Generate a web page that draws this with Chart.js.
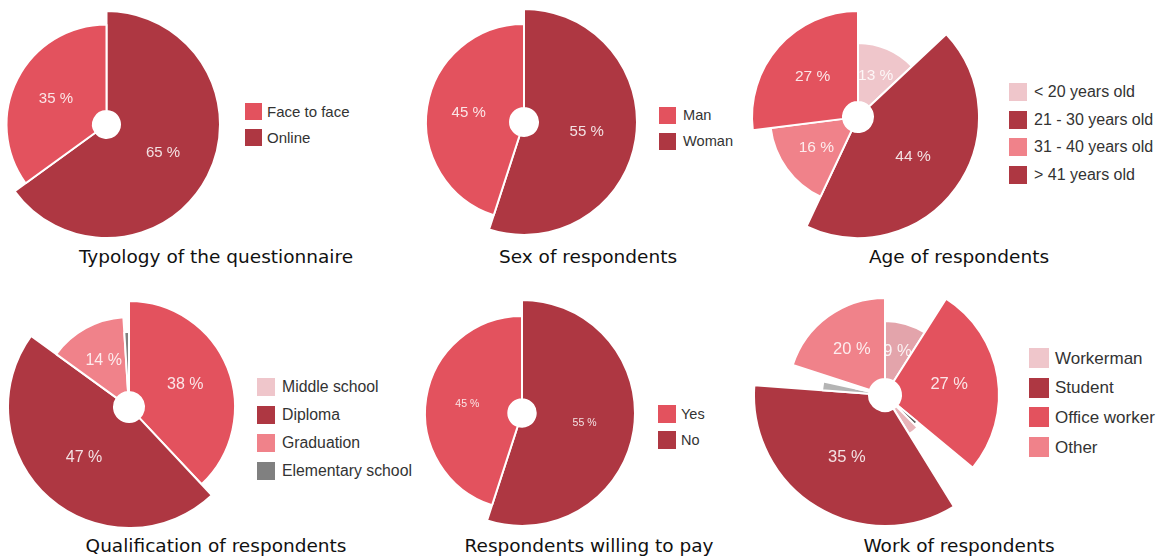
<!DOCTYPE html>
<html>
<head>
<meta charset="utf-8">
<script src="https://cdn.jsdelivr.net/npm/chart.js@4.4.1/dist/chart.umd.min.js"></script>
<style>
html,body{margin:0;padding:0;background:#ffffff;width:1164px;height:560px;overflow:hidden;position:relative}
canvas{position:absolute}
.legend{position:absolute;font-family:"Liberation Sans",Arial,Helvetica,sans-serif;color:#333333}
.item{position:absolute;left:0;display:flex;align-items:center;white-space:nowrap;line-height:1}
.sw{display:inline-block;flex:none}
.title{position:absolute;font-family:"DejaVu Sans",Verdana,sans-serif;font-size:18.5px;line-height:1;white-space:nowrap;color:#111111;transform:translateX(-50%)}
</style>
</head>
<body>
<script>
// ---------------- DATA ----------------
const typologyTitle  = 'Typology of the questionnaire';
const typologySlices = ['Online', 'Face to face'];
const typologyValues = [65, 35];
const typologyLegend = ['Face to face', 'Online'];

const sexTitle  = 'Sex of respondents';
const sexSlices = ['Woman', 'Man'];
const sexValues = [55, 45];
const sexLegend = ['Man', 'Woman'];

const ageTitle  = 'Age of respondents';
const ageSlices = ['< 20 years old', '21 - 30 years old', '31 - 40 years old', '> 41 years old'];
const ageValues = [13, 44, 16, 27];
const ageLegend = ['< 20 years old', '21 - 30 years old', '31 - 40 years old', '> 41 years old'];

const qualTitle  = 'Qualification of respondents';
const qualSlices = ['Middle school', 'Diploma', 'Graduation', 'Elementary school'];
const qualValues = [38, 47, 14, 1];
const qualLegend = ['Middle school', 'Diploma', 'Graduation', 'Elementary school'];

const payTitle  = 'Respondents willing to pay';
const paySlices = ['No', 'Yes'];
const payValues = [55, 45];
const payLegend = ['Yes', 'No'];

const workTitle  = 'Work of respondents';
const workSlices = ['Workerman', 'Office worker', '', '', 'Student', '', '', 'Other'];
const workValues = [9, 27, 1.5, 3.7, 35, 2.2, 1.6, 20];
const workLegend = ['Workerman', 'Student', 'Office worker', 'Other'];

// ---------------- STYLE ----------------
const DARK = '#AE3742', RED = '#E3525E', PINK = '#F0828A', LIGHT = '#EFC6CB', GRAY = '#808080';

const panels = [
  { title: typologyTitle, slices: typologySlices, values: typologyValues, legend: typologyLegend,
    cx: 106, cy: 124, hole: 14.5, radii: [113.5, 100],
    sliceColors: [DARK, RED], legendColors: [RED, DARK],
    lx: 245, ly: 103, pitch: 25.5, sw: 17, gap: 5, lfont: 15, labelFont: 15,
    tx: 216, tb: 264 },
  { title: sexTitle, slices: sexSlices, values: sexValues, legend: sexLegend,
    cx: 524, cy: 122, hole: 15, radii: [113, 98],
    sliceColors: [DARK, RED], legendColors: [RED, DARK],
    lx: 659, ly: 107, pitch: 26, sw: 17, gap: 7, lfont: 14.6, labelFont: 15,
    tx: 588, tb: 264 },
  { title: ageTitle, slices: ageSlices, values: ageValues, legend: ageLegend,
    cx: 858, cy: 117, hole: 16, radii: [74, 121, 88, 106],
    sliceColors: [LIGHT, DARK, PINK, RED], legendColors: [LIGHT, DARK, PINK, DARK],
    lx: 1009, ly: 83, pitch: 27.7, sw: 18, gap: 7, lfont: 16, labelFont: 15.5,
    tx: 959, tb: 264 },
  { title: qualTitle, slices: qualSlices, values: qualValues, legend: qualLegend,
    cx: 129, cy: 407, hole: 16, radii: [106, 121, 90, 75],
    sliceColors: [RED, DARK, PINK, GRAY], legendColors: [LIGHT, DARK, PINK, GRAY],
    lx: 257, ly: 378, pitch: 28, sw: 18, gap: 7, lfont: 15.8, labelFont: 16,
    tx: 216, tb: 552.5 },
  { title: payTitle, slices: paySlices, values: payValues, legend: payLegend,
    cx: 522, cy: 413, hole: 14.7, radii: [113, 97],
    sliceColors: [DARK, RED], legendColors: [RED, DARK],
    lx: 658, ly: 405, pitch: 26, sw: 18, gap: 5, lfont: 14.5, labelFont: 10.5,
    tx: 589, tb: 552.5 },
  { title: workTitle, slices: workSlices, values: workValues, legend: workLegend,
    cx: 885, cy: 395, hole: 17, radii: [74, 114, 42, 46, 131, 63, 30, 97],
    sliceColors: ['#E3A4AB', RED, '#5A5A5A', '#E8B4B9', DARK, '#B4B4B4', 'rgba(0,0,0,0)', PINK],
    legendColors: [LIGHT, DARK, RED, PINK],
    lx: 1029, ly: 348, pitch: 29.7, sw: 20, gap: 6, lfont: 17, labelFont: 16.5,
    tx: 959, tb: 552.5 }
];

// ---------------- PLUGINS ----------------
const sliceRadius = {
  id: 'sliceRadius',
  afterDatasetUpdate(chart, args, opts) {
    const meta = args.meta;
    const base = meta.controller.outerRadius;
    meta.data.forEach((arc, i) => { arc.outerRadius = base * (opts.scale[i] ?? 1); });
  }
};
const sliceLabels = {
  id: 'sliceLabels',
  afterDatasetsDraw(chart, args, opts) {
    const ctx = chart.ctx;
    const meta = chart.getDatasetMeta(0);
    const data = chart.data.datasets[0].data;
    ctx.save();
    ctx.font = opts.size + 'px "Liberation Sans", Arial, sans-serif';
    ctx.fillStyle = 'rgba(255,255,255,0.85)';
    ctx.textAlign = 'center';
    ctx.textBaseline = 'middle';
    meta.data.forEach((arc, i) => {
      if (data[i] < opts.min) return;
      const p = arc.tooltipPosition();
      ctx.fillText(data[i] + ' %', p.x, p.y);
    });
    ctx.restore();
  }
};

// ---------------- BUILD ----------------
panels.forEach(p => {
  const rmax = Math.max(...p.radii);
  const S = Math.round(2 * rmax + 2);
  const cv = document.createElement('canvas');
  cv.width = S; cv.height = S;
  cv.style.width = S + 'px'; cv.style.height = S + 'px';
  cv.style.left = (p.cx - S / 2) + 'px';
  cv.style.top = (p.cy - S / 2) + 'px';
  document.body.appendChild(cv);

  new Chart(cv, {
    type: 'doughnut',
    data: {
      labels: p.slices,
      datasets: [{
        data: p.values,
        backgroundColor: p.sliceColors,
        borderColor: '#ffffff',
        borderWidth: 2,
        clip: false
      }]
    },
    options: {
      responsive: false,
      animation: false,
      events: [],
      cutout: ((p.hole - 1) / rmax * 100) + '%',
      layout: { padding: 0 },
      plugins: {
        legend: { display: false },
        tooltip: { enabled: false },
        sliceRadius: { scale: p.radii.map(r => r / rmax) },
        sliceLabels: { size: p.labelFont, min: 5 }
      }
    },
    plugins: [sliceRadius, sliceLabels]
  });

  // legend
  const lg = document.createElement('div');
  lg.className = 'legend';
  lg.style.left = p.lx + 'px';
  lg.style.top = p.ly + 'px';
  lg.style.fontSize = p.lfont + 'px';
  p.legend.forEach((name, i) => {
    const it = document.createElement('div');
    it.className = 'item';
    it.style.top = (i * p.pitch) + 'px';
    it.style.height = p.sw + 'px';
    const sw = document.createElement('span');
    sw.className = 'sw';
    sw.style.width = p.sw + 'px';
    sw.style.height = p.sw + 'px';
    sw.style.background = p.legendColors[i];
    sw.style.marginRight = p.gap + 'px';
    const tx = document.createElement('span');
    tx.textContent = name;
    it.appendChild(sw); it.appendChild(tx);
    lg.appendChild(it);
  });
  document.body.appendChild(lg);

  // title
  const t = document.createElement('div');
  t.className = 'title';
  t.textContent = p.title;
  t.style.left = p.tx + 'px';
  t.style.top = (p.tb - 0.846 * 18.5) + 'px';
  document.body.appendChild(t);
});
</script>
</body>
</html>
